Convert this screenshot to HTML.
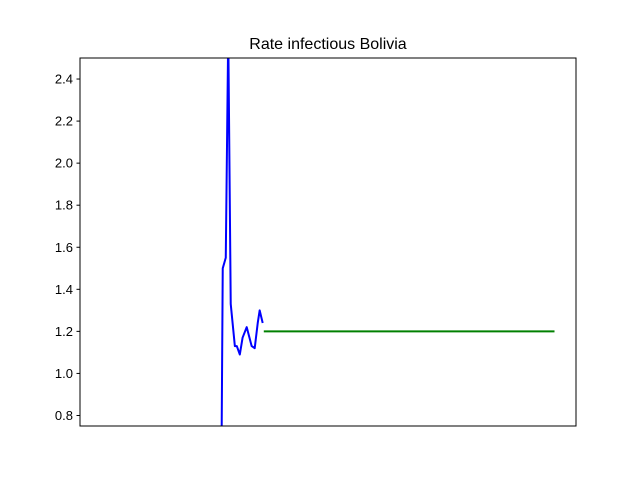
<!DOCTYPE html>
<html><head><meta charset="utf-8"><style>
html,body{margin:0;padding:0;background:#fff;width:640px;height:480px;overflow:hidden;}
svg{display:block;font-family:"Liberation Sans","DejaVu Sans",sans-serif;}
</style></head><body>
<svg id="chart" width="640" height="480"></svg>
<script>
const blueDays=[51.4,51.8,52.9,53.8,54.7,56.2,56.9,58.0,59.0,60.5,62.3,63.4,64.5,65.2,66.3];
const blueVals=[0.7,1.50,1.55,2.62,1.33,1.13,1.13,1.09,1.17,1.22,1.13,1.12,1.24,1.30,1.24];
const greenDays=[66.7,172.2];
const greenVals=[1.2,1.2];
const yTicks=[0.8,1.0,1.2,1.4,1.6,1.8,2.0,2.2,2.4];
const yTickLabels=["0.8","1.0","1.2","1.4","1.6","1.8","2.0","2.2","2.4"];

const L=80,R=576,T=58,B=426,xMin=0,xMax=180,yMin=0.75,yMax=2.5;
const sx=d=>L+(d-xMin)/(xMax-xMin)*(R-L);
const sy=v=>B-(v-yMin)/(yMax-yMin)*(B-T);
const svg=document.getElementById('chart');
const NS='http://www.w3.org/2000/svg';
function mk(tag,attrs,parent){const e=document.createElementNS(NS,tag);for(const k in attrs)e.setAttribute(k,attrs[k]);(parent||svg).appendChild(e);return e;}

const title=mk('text',{x:328,y:49,'text-anchor':'middle','font-size':16,fill:'#000'});
title.textContent='Rate infectious Bolivia';



const defs=mk('defs',{});
const cp=mk('clipPath',{id:'clip'},defs);
mk('rect',{x:L,y:T,width:R-L,height:B-T},cp);

const plot=mk('g',{'clip-path':'url(#clip)'});



const bl=mk('polyline',{points:blueDays.map((d,i)=>sx(d)+','+sy(blueVals[i])).join(' '),fill:'none',stroke:'#0000ff','stroke-width':2,'stroke-linejoin':'round'},plot);


const gl=mk('polyline',{points:greenDays.map((d,i)=>sx(d)+','+sy(greenVals[i])).join(' '),fill:'none',stroke:'#008000','stroke-width':2},plot);



const frame=mk('rect',{x:L,y:T,width:R-L,height:B-T,fill:'none',stroke:'#000','stroke-width':1});



const yAxis=mk('g',{});


yTicks.forEach((v,i)=>{
  const y=sy(v);
  mk('line',{x1:L-3.5,x2:L,y1:y,y2:y,stroke:'#000','stroke-width':1},yAxis);
  const t=mk('text',{x:L-7,y:y+4.5,'text-anchor':'end','font-size':13,fill:'#000'},yAxis);
  t.textContent=yTickLabels[i];
  
  
});
</script>
</body></html>
